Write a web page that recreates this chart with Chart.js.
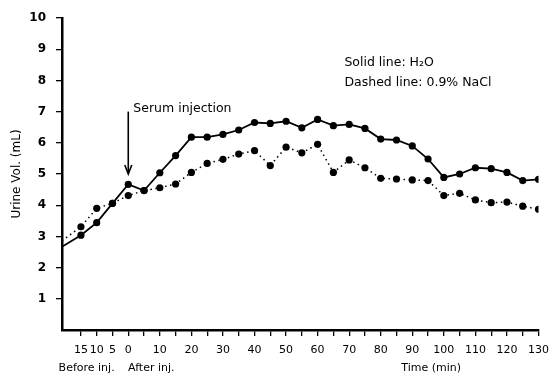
<!DOCTYPE html>
<html><head><meta charset="utf-8">
<script src="https://cdn.jsdelivr.net/npm/chart.js@4/dist/chart.umd.min.js"></script>
<style>html,body{margin:0;padding:0;background:#fff}#wrap{width:557px;height:376px}</style>
</head><body><div id="wrap"><canvas id="c"></canvas></div>
<script>
// Time (min) relative to serum injection; first entry is the line start at the y-axis
const times = [-21, -15, -10, -5, 0, 5, 10, 15, 20, 25, 30, 35, 40, 45, 50, 55, 60, 65, 70, 75, 80, 85, 90, 95, 100, 105, 110, 115, 120, 125, 130];
const solidH2O = [2.67, 3.04, 3.44, 4.06, 4.67, 4.47, 5.04, 5.59, 6.18, 6.18, 6.27, 6.41, 6.65, 6.62, 6.69, 6.48, 6.75, 6.55, 6.59, 6.46, 6.12, 6.09, 5.90, 5.48, 4.89, 5.00, 5.20, 5.17, 5.05, 4.79, 4.83];
const dashedNaCl = [2.86, 3.31, 3.90, 4.06, 4.31, 4.47, 4.56, 4.68, 5.05, 5.34, 5.47, 5.64, 5.75, 5.27, 5.86, 5.68, 5.95, 5.05, 5.45, 5.20, 4.86, 4.84, 4.81, 4.79, 4.31, 4.38, 4.17, 4.08, 4.10, 3.97, 3.87];
const xTickValues = [-15, -10, -5, 0, 5, 10, 15, 20, 25, 30, 35, 40, 45, 50, 55, 60, 65, 70, 75, 80, 85, 90, 95, 100, 105, 110, 115, 120, 125, 130];
const xTickLabels = {"-15": "15", "-10": "10", "-5": "5", "0": "0", "10": "10", "20": "20", "30": "30", "40": "40", "50": "50", "60": "60", "70": "70", "80": "80", "90": "90", "100": "100", "110": "110", "120": "120", "130": "130"};
const yTickValues = [1, 2, 3, 4, 5, 6, 7, 8, 9, 10];

const FONT = "'DejaVu Sans', sans-serif";
const toPts = ys => times.map((t, i) => ({x: t, y: ys[i]}));
const radii = times.map((t, i) => i === 0 ? 0 : 3.6);

const notes = {
  id: 'notes',
  afterDraw(chart) {
    const {ctx, scales: {x, y}} = chart;
    ctx.save();
    ctx.fillStyle = '#000';
    ctx.strokeStyle = '#000';
    // Arrow for serum injection
    const ax = x.getPixelForValue(0);
    const ay1 = y.getPixelForValue(7.0), ay2 = y.getPixelForValue(5.0);
    ctx.lineWidth = 1.6;
    ctx.beginPath(); ctx.moveTo(ax, ay1); ctx.lineTo(ax, ay2 - 2); ctx.stroke();
    ctx.beginPath(); ctx.moveTo(ax - 3.5, ay2 - 9); ctx.lineTo(ax, ay2); ctx.lineTo(ax + 3.5, ay2 - 9); ctx.stroke();
    ctx.font = '12.5px ' + FONT;
    ctx.textBaseline = 'middle';
    ctx.textAlign = 'left';
    ctx.fillText('Serum injection', x.getPixelForValue(1.6), y.getPixelForValue(7.1));
    // legend text
    ctx.font = '12.5px ' + FONT;
    ctx.fillText('Solid line: H\u2082O', x.getPixelForValue(68.5), y.getPixelForValue(8.57));
    ctx.fillText('Dashed line: 0.9% NaCl', x.getPixelForValue(68.5), y.getPixelForValue(7.93));
    // under-axis labels
    ctx.font = '11px ' + FONT;
    ctx.textAlign = 'center';
    const ly = y.bottom + 38;
    ctx.fillText('Before inj.', x.getPixelForValue(-13.2), ly);
    ctx.fillText('After inj.', x.getPixelForValue(7.3), ly);
    ctx.fillText('Time (min)', x.getPixelForValue(96), ly);
    ctx.restore();
  }
};

new Chart(document.getElementById('c'), {
  type: 'line',
  data: {
    datasets: [
      {label: 'H2O', data: toPts(solidH2O), borderColor: '#000', backgroundColor: '#000', borderWidth: 1.8,
       pointRadius: radii, pointBackgroundColor: '#000', pointBorderWidth: 0, tension: 0},
      {label: '0.9% NaCl', data: toPts(dashedNaCl), borderColor: '#000', backgroundColor: '#000', borderWidth: 1.5,
       borderDash: [1.5, 3.5], pointRadius: radii, pointBackgroundColor: '#000', pointBorderWidth: 0, tension: 0}
    ]
  },
  options: {
    responsive: true, maintainAspectRatio: false, animation: false,
    layout: {padding: {top: 18, right: 17, left: 0, bottom: 0}},
    plugins: {legend: {display: false}, tooltip: {enabled: false}},
    scales: {
      x: {
        type: 'linear', min: -21, max: 130,
        afterFit(s) { s.height = 46; },
        afterBuildTicks(s) { s.ticks = xTickValues.map(v => ({value: v})); },
        border: {color: '#000', width: 2.5},
        grid: {drawOnChartArea: false, color: '#000', lineWidth: 1.3, tickLength: 6},
        ticks: {color: '#000', font: {family: FONT, size: 11}, padding: 8, maxRotation: 0, autoSkip: false,
                callback: v => xTickLabels[String(v)] || ''}
      },
      y: {
        min: 0, max: 10,
        afterFit(s) { s.width = 62; },
        afterBuildTicks(s) { s.ticks = yTickValues.map(v => ({value: v})); },
        border: {color: '#000', width: 2.5},
        grid: {drawOnChartArea: false, color: '#000', lineWidth: 1.3, tickLength: 6},
        ticks: {color: '#000', font: {family: FONT, size: 12, weight: 'bold'}, padding: 10},
        title: {display: true, text: 'Urine Vol. (mL)', color: '#000', font: {family: FONT, size: 12}, padding: {top: 10, bottom: 0}}
      }
    }
  },
  plugins: [notes]
});
</script></body></html>
